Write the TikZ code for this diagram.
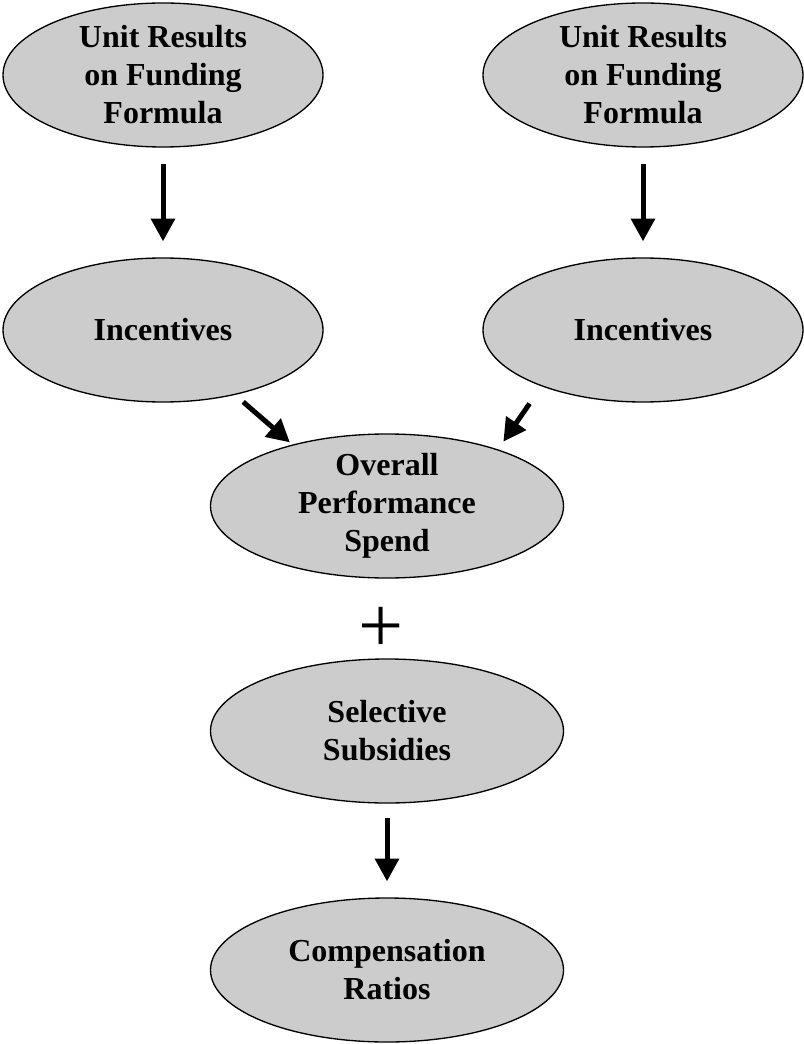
\documentclass[tikz,border=0pt]{standalone}
\usepackage{fontspec}
\setmainfont{Liberation Serif}
\usepackage{tikz}
\usetikzlibrary{shapes.geometric,arrows.meta}
\definecolor{ovalgray}{RGB}{204,204,204}

\begin{document}
\begin{tikzpicture}[x=0.75pt,y=-0.75pt,
    oval/.style={ellipse,draw=black,line width=1pt,fill=ovalgray,inner sep=0pt,inner ysep=-2pt,
      minimum width=240pt,minimum height=108pt,align=center,font=\bfseries\fontsize{24}{28.5}\selectfont},
    wideoval/.style={oval,minimum width=264.75pt},
    fatarrow/.style={line width=3.75pt,-{Triangle[width=17.5pt,length=17pt]}}]
  \useasboundingbox (0,0) rectangle (803,1044);
  \node[oval] (unitl) at (163,75) {Unit Results\\on Funding\\Formula};
  \node[oval] (unitr) at (643,75) {Unit Results\\on Funding\\Formula};
  \node[oval] (incl) at (163,330) {Incentives};
  \node[oval] (incr) at (643,330) {Incentives};
  \node[wideoval] (overall) at (387,506) {Overall\\Performance\\Spend};
  \node[font=\fontsize{60}{60}\selectfont,inner sep=0pt] (plus) at (381,630) {+};
  \node[wideoval] (select) at (387,731) {Selective\\Subsidies};
  \node[wideoval] (comp) at (387,970) {Compensation\\Ratios};
  \draw[fatarrow,shorten <=12pt,shorten >=12pt] (unitl) -- (incl);
  \draw[fatarrow,shorten <=12pt,shorten >=12pt] (unitr) -- (incr);
  \draw[fatarrow,shorten <=8pt,shorten >=2.5pt] (incl.-42) -- (overall.147);
  \draw[fatarrow,shorten <=15.75pt,shorten >=7pt] (incr.-151) -- (overall.27);
  \draw[fatarrow,shorten <=11pt,shorten >=12pt] (select) -- (comp);
\end{tikzpicture}
\end{document}
